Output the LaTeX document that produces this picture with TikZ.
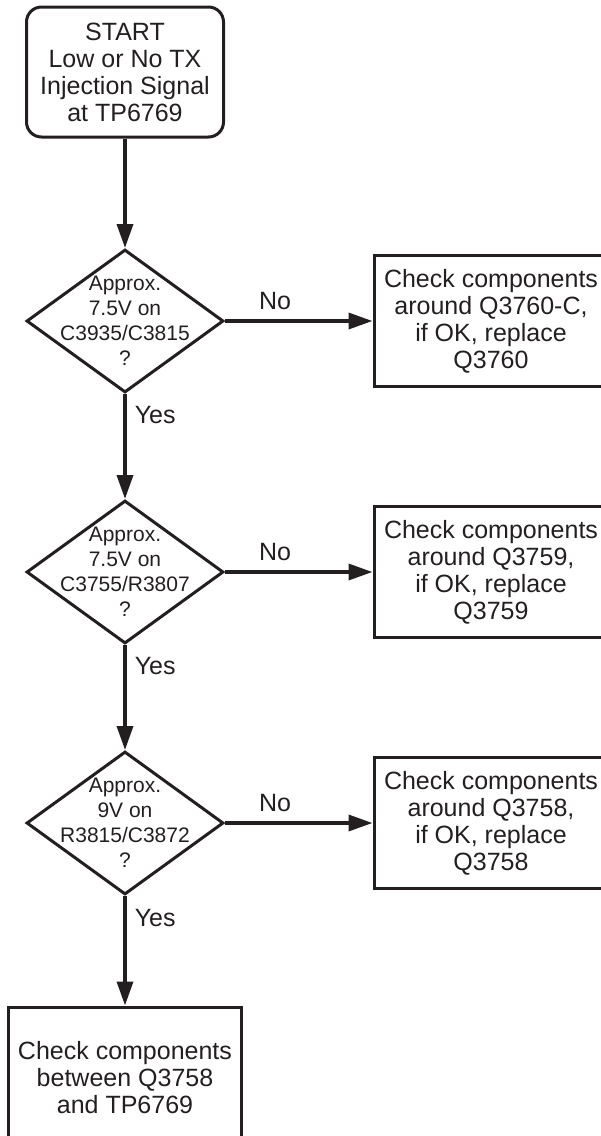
\documentclass[tikz,border=0pt]{standalone}
\usepackage{fontspec}
\setmainfont{Liberation Sans}
\usetikzlibrary{shapes.geometric, arrows.meta}
\definecolor{ink}{HTML}{231F20}

\begin{document}
\begin{tikzpicture}[x=1pt, y=-1pt,
      every node/.style={font=\fontsize{25}{27}\selectfont, text=ink},
      startbox/.style={draw=ink, line width=3pt, rounded corners=15pt,
        minimum width=197pt, minimum height=130pt, align=center, inner sep=0pt},
      decision/.style={draw=ink, line width=3pt, diamond,
        minimum width=197pt, minimum height=143pt, inner sep=0pt},
      dtext/.style={font=\fontsize{21}{25}\selectfont, align=center, inner sep=0pt},
      check/.style={draw=ink, line width=3pt, minimum width=234pt,
        minimum height=131pt, align=center, inner sep=0pt},
      lbl/.style={inner sep=2pt},
      flowline/.style={draw=ink, line width=3.5pt,
        -{Triangle[length=24pt, width=16pt]}}]
    \useasboundingbox (0,0) rectangle (601,1136);
    % main column
    \node[startbox] (start) at (125,72) {START\\Low or No TX\\Injection Signal\\at TP6769};
    \node[decision] (d1) at (125,321) {};
    \node[dtext] (q1) at (d1) {Approx.\\7.5V on\\C3935/C3815\\?};
    \node[decision] (d2) at (125,572) {};
    \node[dtext] (q2) at (d2) {Approx.\\7.5V on\\C3755/R3807\\?};
    \node[decision] (d3) at (125,823) {};
    \node[dtext] (q3) at (d3) {Approx.\\9V on\\R3815/C3872\\?};
    \node[check, minimum width=233pt, minimum height=142pt] (fin) at (125,1078)
          {Check components\\between Q3758\\and TP6769};
    % right column
    \node[check] (c1) at (491,321) {Check components\\around Q3760-C,\\if OK, replace\\Q3760};
    \node[check] (c2) at (491,572) {Check components\\around Q3759,\\if OK, replace\\Q3759};
    \node[check] (c3) at (491,823) {Check components\\around Q3758,\\if OK, replace\\Q3758};
    % connectors
    \draw[flowline] (start.south) -- (d1.north);
    \draw[flowline] (d1.south) -- (d2.north) node[lbl, right=6pt, pos=0.2] {Yes};
    \draw[flowline] (d2.south) -- (d3.north) node[lbl, right=6pt, pos=0.2] {Yes};
    \draw[flowline] (d3.south) -- (fin.north) node[lbl, right=6pt, pos=0.2] {Yes};
    \draw[flowline] (d1.east) -- (c1.west) node[lbl, above=8pt, pos=0.34] {No};
    \draw[flowline] (d2.east) -- (c2.west) node[lbl, above=8pt, pos=0.34] {No};
    \draw[flowline] (d3.east) -- (c3.west) node[lbl, above=8pt, pos=0.34] {No};
  \end{tikzpicture}
\end{document}
